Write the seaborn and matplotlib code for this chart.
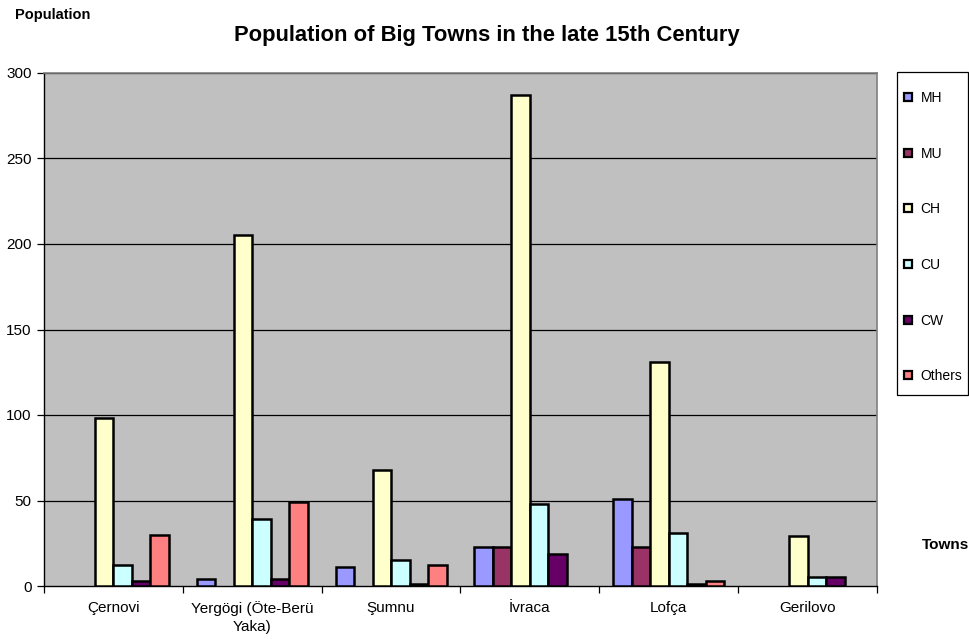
import numpy as np
import pandas as pd
import matplotlib
matplotlib.use("Agg")
import matplotlib.pyplot as plt
from matplotlib.lines import Line2D
from matplotlib.patches import Rectangle
import seaborn as sns

towns = ["Çernovi", "Yergögi (Öte-Berü\nYaka)", "Şumnu", "İvraca", "Lofça", "Gerilovo"]
groups = ["MH", "MU", "CH", "CU", "CW", "Others"]
nan = np.nan
mh = [nan, 4, 11, 23, 51, nan]
mu = [nan, nan, nan, 23, 23, nan]
ch = [98, 205, 68, 287, 131, 29]
cu = [12, 39, 15, 48, 31, 5]
cw = [3, 4, 1, 19, 1, 5]
others = [30, 49, 12, nan, 3, nan]
colors = ["#9999FF", "#993366", "#FFFFCC", "#CCFFFF", "#660066", "#FF8080"]

series = dict(zip(groups, [mh, mu, ch, cu, cw, others]))
rows = []
for g, vals in series.items():
    for t, v in zip(towns, vals):
        rows.append({"Town": t, "Group": g, "Population": v})
df = pd.DataFrame(rows).dropna()

sns.set_theme(style="white")
plt.rcParams["font.family"] = ["Liberation Sans", "DejaVu Sans"]
plt.rcParams["text.color"] = "black"
plt.rcParams["xtick.color"] = "black"
plt.rcParams["ytick.color"] = "black"

W, H = 970, 639
fig = plt.figure(figsize=(W / 100, H / 100), dpi=100)
ax = fig.add_axes([44 / W, 1 - 586 / H, (877 - 44) / W, (586 - 73) / H])
ax.set_facecolor("#C0C0C0")

sns.barplot(data=df, x="Town", y="Population", hue="Group", order=towns,
            hue_order=groups, palette=colors, edgecolor="black", linewidth=1.8,
            width=0.8, saturation=1, ax=ax, legend=False, zorder=3)

ax.set_ylim(0, 300)
ax.set_xlim(-0.5, len(towns) - 0.5)
ax.set_yticks(range(0, 301, 50))
for y in range(50, 301, 50):
    ax.axhline(y, color="black", linewidth=0.9, zorder=1)

ax.set_xticks(range(len(towns)))
ax.set_xticklabels(towns, fontsize=11, linespacing=1.3)
ax.set_xticks(np.arange(-0.5, len(towns), 1.0), minor=True)
ax.tick_params(axis="x", which="major", length=0, pad=11)
ax.tick_params(axis="x", which="minor", length=5, direction="out", color="black", width=0.9, bottom=True)
ax.tick_params(axis="y", length=5, direction="out", color="black", width=0.9, left=True, labelsize=11, pad=4)
ax.set_xlabel("")
ax.set_ylabel("")

for s in ["top", "right"]:
    ax.spines[s].set_color("#808080")
    ax.spines[s].set_linewidth(1.2)
ax.spines["left"].set_color("black")
ax.spines["left"].set_linewidth(1.0)
ax.spines["bottom"].set_color("black")
ax.spines["bottom"].set_linewidth(1.0)

fig.text(487 / W, 1 - 35 / H, "Population of Big Towns in the late 15th Century",
         ha="center", va="center", fontsize=15.8, fontweight="bold")
fig.text(15 / W, 1 - 15 / H, "Population", ha="left", va="center",
         fontsize=10.5, fontweight="bold")
fig.text(922 / W, 1 - 545 / H, "Towns", ha="left", va="center",
         fontsize=11, fontweight="bold")

# legend box
fig.add_artist(Rectangle((897 / W, 1 - 395 / H), (968 - 897) / W, (395 - 72) / H,
                         transform=fig.transFigure, facecolor="white",
                         edgecolor="black", linewidth=0.9))
handles = [Line2D([], [], linestyle="none", marker="s", markersize=5.5,
                  markerfacecolor=c, markeredgecolor="black", markeredgewidth=1.6)
           for c in colors]
leg = fig.legend(handles, groups, loc="upper left",
                 bbox_to_anchor=(904 / W, 1 - 91 / H), frameon=False,
                 fontsize=10, labelspacing=3.0, handlelength=0.6, handletextpad=0.6,
                 borderpad=0, borderaxespad=0)

fig.savefig("out.png", dpi=100, facecolor="white")
